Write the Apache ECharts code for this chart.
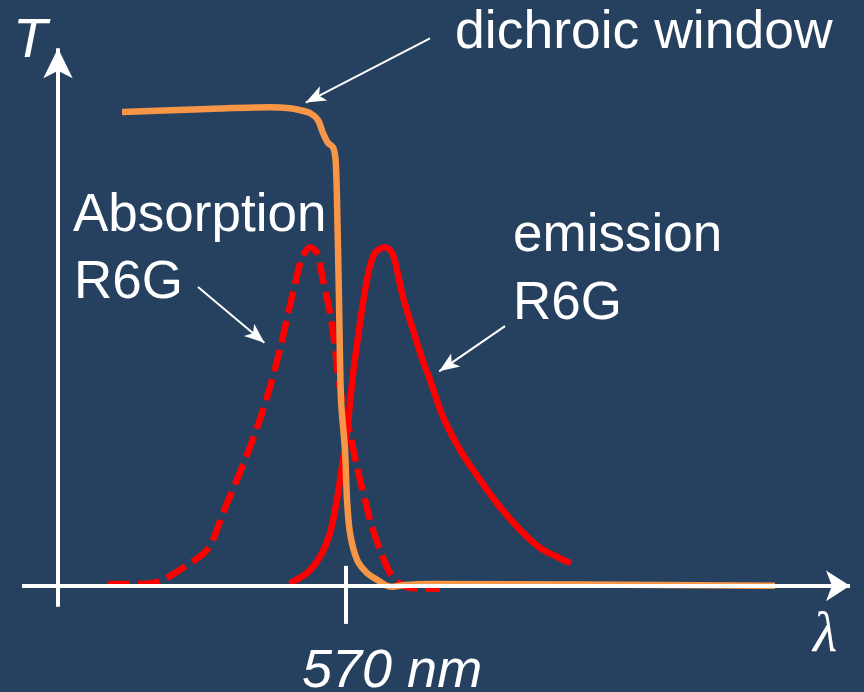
<!DOCTYPE html>
<html><head><meta charset="utf-8">
<script src="https://cdn.jsdelivr.net/npm/echarts@6.0.0/dist/echarts.min.js"></script>
<style>html,body{margin:0;padding:0;background:#26405F}#c{width:864px;height:692px}</style>
</head><body><div id="c"></div>
<script>
// wavelength (schematic nm) vs transmission / normalized intensity
const absorptionR6G = [
  [451,0.004],[462,0.004],[475.5,0.008],[488.5,0.038],[499.5,0.071],[503.5,0.097],
  [508.5,0.153],[515.5,0.223],[522,0.292],[528,0.363],[533,0.433],[537.5,0.506],
  [541.5,0.580],[545,0.643],[548,0.689],[552,0.712],[555.5,0.700],
  [558.5,0.643],[562,0.574],[564.5,0.502],[566.5,0.426],[570,0.36],[572.5,0.31],
  [575.5,0.250],[579.5,0.181],[583,0.124],[587,0.076],[592,0.027],[596,0.008],
  [602,-0.004],[617,-0.006]
];
const emissionR6G = [
  [543,0.008],[550.5,0.027],[557,0.061],[562,0.111],[565.5,0.181],[568,0.250],
  [570.5,0.321],[572,0.385],[573.8,0.454],[576.5,0.538],[579,0.607],[581.5,0.664],
  [584.5,0.700],[589.5,0.712],[593,0.700],[595.5,0.664],[598.5,0.607],[603.5,0.538],
  [608,0.478],[612,0.433],[618.5,0.355],[627,0.286],[637,0.223],[647,0.166],
  [657,0.118],[667,0.080],[675.5,0.061],[681,0.050]
];
const dichroicWindow = [
  [458,0.996],[497,1.002],[532,1.006],[542,1.004],[547,1.0],[552,0.994],[556,0.979],
  [558.5,0.952],[561,0.931],[563.5,0.922],[564.8,0.895],[565.5,0.811],[566.5,0.601],
  [567.5,0.391],[569.5,0.286],[570.5,0.181],[572,0.111],[575.5,0.055],[580.5,0.027],
  [585.5,0.013],[589.5,0.002],[593,-0.002],[599.5,0.002],[612,0.004],[784.5,0.0]
];
const tickLabels = ['570 nm'];
const tickValues = [570];
const seriesNames = ['Absorption R6G','emission R6G','dichroic window'];

const WHITE = '#FFFFFF', RED = '#FF0000', ORANGE = '#F79646', BG = '#26405F';
const FONT = '"Liberation Sans", Arial, sans-serif';

const chart = echarts.init(document.getElementById('c'), null, {renderer:'canvas'});

function arrowLine(p, q, width, size){
  return {
    type:'line', data:[], silent:true, z:5,
    markLine:{
      silent:true, animation:false,
      symbol:['none','arrow'], symbolSize:size,
      label:{show:false},
      lineStyle:{color:WHITE, width:width, type:'solid', opacity:1},
      emphasis:{disabled:true},
      data:[[{coord:p},{coord:q}]]
    }
  };
}
function plainLine(p, q, width){
  return {
    type:'line', data:[], silent:true, z:5,
    markLine:{
      silent:true, animation:false,
      symbol:['none','none'],
      label:{show:false},
      lineStyle:{color:WHITE, width:width, type:'solid', opacity:1},
      emphasis:{disabled:true},
      data:[[{coord:p},{coord:q}]]
    }
  };
}

const option = {
  backgroundColor: BG,
  animation:false,
  grid:{left:0, right:0, top:15, bottom:11},
  xAxis:{type:'value', min:397, max:829, show:false},
  yAxis:{type:'value', min:-0.2, max:1.2, show:false},
  series:[
    {name:seriesNames[0], type:'line', data:absorptionR6G, showSymbol:false, smooth:0.3, z:2,
     lineStyle:{color:RED, width:6.5, type:[22,8], cap:'butt'}},
    {name:seriesNames[1], type:'line', data:emissionR6G, showSymbol:false, smooth:0.3, z:2,
     lineStyle:{color:RED, width:6.5, cap:'round'}},
    {name:seriesNames[2], type:'line', data:dichroicWindow, showSymbol:false, smooth:0.25, z:3,
     lineStyle:{color:ORANGE, width:6.5}},
    // axes
    arrowLine([408,0],[822,0],4,[23,24]),
    arrowLine([426,-0.044],[426,1.130],4,[22,30]),
    plainLine([tickValues[0],0.042],[tickValues[0],-0.080],4),
    // annotation arrows
    arrowLine([612,1.151],[549.9,1.016],2,[12,20]),
    arrowLine([496,0.628],[529.2,0.511],2,[12,20]),
    arrowLine([649.5,0.546],[616.6,0.451],2,[12,20])
  ],
  graphic:[
    {type:'text', style:{x:455, y:33.6, text:'dichroic window', font:'53.5px '+FONT, fill:WHITE, verticalAlign:'middle'}},
    {type:'text', style:{x:73, y:216.6, text:'Absorption', font:'53px '+FONT, fill:WHITE, verticalAlign:'middle'}},
    {type:'text', style:{x:74, y:283.6, text:'R6G', font:'53px '+FONT, fill:WHITE, verticalAlign:'middle'}},
    {type:'text', style:{x:513, y:236.6, text:'emission', font:'53px '+FONT, fill:WHITE, verticalAlign:'middle'}},
    {type:'text', style:{x:513, y:304.6, text:'R6G', font:'53px '+FONT, fill:WHITE, verticalAlign:'middle'}},
    {type:'text', style:{x:302, y:671.6, text:tickLabels[0], font:'italic 54px '+FONT, fill:WHITE, verticalAlign:'middle'}},
    {type:'text', style:{x:13, y:41.6, text:'T', font:'italic 56px '+FONT, fill:WHITE, verticalAlign:'middle'}},
    {type:'text', style:{x:813, y:636.5, text:'λ', font:'italic 56px "Liberation Serif", "Times New Roman", serif', fill:WHITE, verticalAlign:'middle'}}
  ]
};
chart.setOption(option);
</script>
</body></html>
